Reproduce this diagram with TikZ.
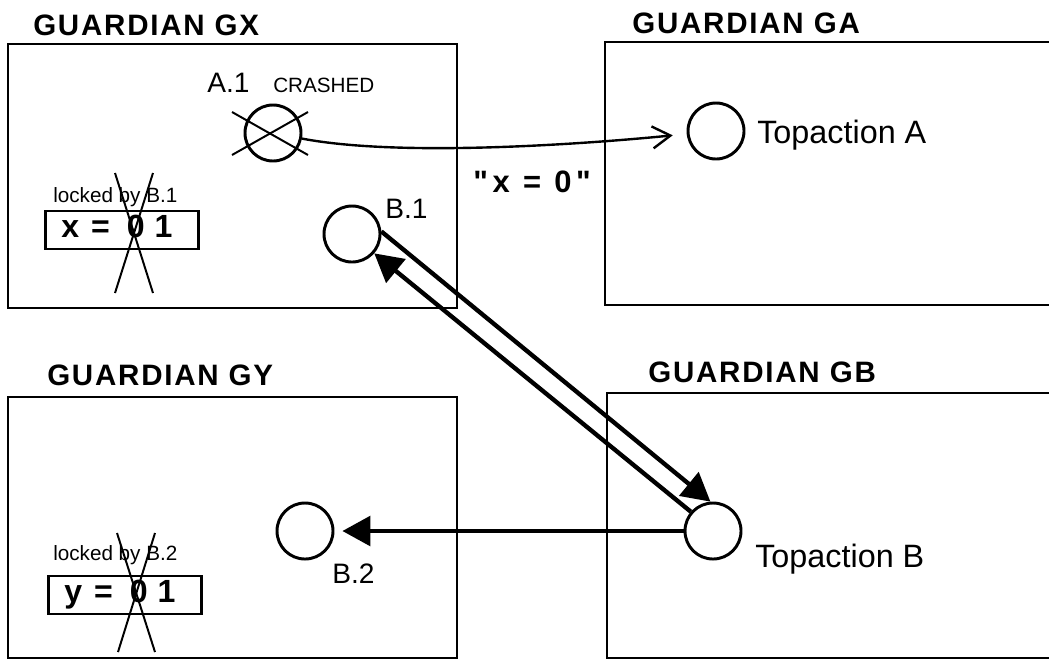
\documentclass[tikz,border=0pt]{standalone}
\usepackage{fontspec}
\setmainfont{Liberation Sans}[Ligatures=TeXOff]
\usepackage{tikz}
\usetikzlibrary{arrows.meta,calc,positioning}
\tikzstyle{guardian}=[draw,line width=2.1pt]
\tikzstyle{gname}=[anchor=base west,inner sep=0pt,font=\fontsize{21}{21}\selectfont\bfseries\addfontfeature{LetterSpace=6}]
\tikzstyle{action}=[draw,circle,line width=2.1pt,minimum size=1.4cm,inner sep=0pt]
\tikzstyle{alabel}=[anchor=base west,inner sep=0pt,font=\fontsize{20}{20}\selectfont]
\tikzstyle{toplabel}=[anchor=base west,inner sep=0pt,font=\fontsize{23}{23}\selectfont]
\tikzstyle{note}=[anchor=base west,inner sep=0pt,font=\fontsize{14.7}{15}\selectfont]
\tikzstyle{msg}=[anchor=base west,inner sep=0pt,font=\fontsize{22}{22}\selectfont\bfseries\addfontfeature{LetterSpace=15}]
\tikzstyle{varbox}=[draw,line width=2.1pt,anchor=base west,inner xsep=0.4cm,inner ysep=0pt,text width=3.02cm,text height=0.65cm,text depth=0.3cm,font=\fontsize{22.8}{23}\selectfont\bfseries]
\tikzstyle{strike}=[line width=1.4pt]
\tikzstyle{call}=[line width=3.1pt,-{Triangle[length=0.7cm,width=0.75cm]}]
\tikzstyle{send}=[line width=1.7pt,-{Straight Barb[length=0.45cm,width=0.55cm]}]
\newcommand{\lockval}[1]{#1\hskip8.5pt=\hskip12pt0\hskip7pt1}

\begin{document}
\begin{tikzpicture}[x=0.025cm,y=-0.025cm]
\useasboundingbox (0,0) rectangle (1049,660);
\clip (0,0) rectangle (1049,660);
\draw[guardian] (8,44) rectangle (457,308);
\draw[guardian] (605,42) rectangle (1070,305);
\draw[guardian] (8,397) rectangle (457,658);
\draw[guardian] (607,393) rectangle (1070,658);
\draw (33,35) node [gname] (tGX) {GUARDIAN GX};
\draw (632,33) node [gname] (tGA) {GUARDIAN GA};
\draw (47,385) node [gname] (tGY) {GUARDIAN GY};
\draw (648,382) node [gname] (tGB) {GUARDIAN GB};
\draw (273,133) node [action] (A1) {};
\draw[strike] (232,112) -- (308,155);
\draw[strike] (232,155) -- (308,112);
\draw (207,92) node [alabel] (lA1) {A.1};
\draw (273,92) node [note] (crash) {CRASHED};
\draw (352,234) node [action] (B1) {};
\draw (385,218) node [alabel] (lB1) {B.1};
\draw (305,531) node [action] (B2) {};
\draw (332,583) node [alabel] (lB2) {B.2};
\draw (716,131) node [action] (TA) {};
\draw (757,143) node [toplabel] (lTA) {Topaction A};
\draw (713,531) node [action] (TB) {};
\draw (755,567) node [toplabel] (lTB) {Topaction B};
\draw (53,202) node [note] (lockx) {locked by B.1};
\draw (44,237) node [varbox] (vx) {\lockval{x}};
\draw[strike] (115,173) -- (153,293);
\draw[strike] (153,173) -- (115,293);
\draw (53,560) node [note] (locky) {locked by B.2};
\draw (47,602) node [varbox] (vy) {\lockval{y}};
\draw[strike] (117,533) -- (155,652);
\draw[strike] (155,533) -- (118,652);
\draw[send, shorten >=0.35cm] (A1) .. controls +(130,25) and +(-120,12) .. (TA);
\draw (473,192) node [msg] (lmsg) {"x = 0"};
\draw[call] (B1.5) -- (TB.95);
\draw[call] (TB.139) -- (B1.-41);
\draw[call, line width=2.2pt, shorten >=0.2cm] (TB) -- (B2);
\end{tikzpicture}
\end{document}
